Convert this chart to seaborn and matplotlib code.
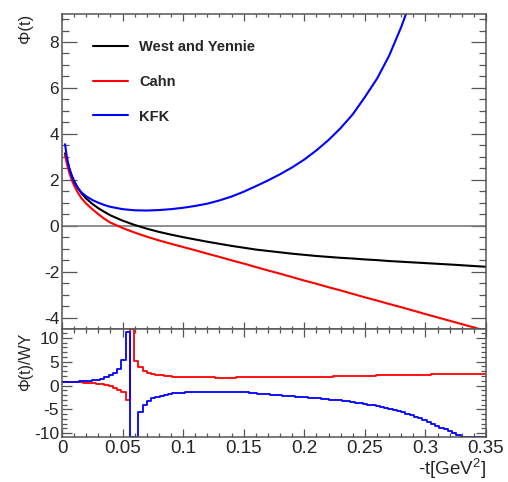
import numpy as np
import pandas as pd
import matplotlib
matplotlib.use("Agg")
import matplotlib.pyplot as plt
from matplotlib.ticker import MultipleLocator, FuncFormatter
import seaborn as sns

# ---------------- data ----------------
t_curve = [0.0025, 0.004, 0.006, 0.008, 0.01, 0.013, 0.016, 0.02, 0.025, 0.03,
           0.035, 0.04, 0.05, 0.06, 0.07, 0.08, 0.09, 0.10, 0.11, 0.12,
           0.13, 0.14, 0.15, 0.16, 0.17, 0.18, 0.19, 0.20, 0.21, 0.22,
           0.23, 0.24, 0.25, 0.26, 0.27, 0.28, 0.29, 0.30, 0.32, 0.35]
phi_wy = [3.15, 2.85, 2.5, 2.2, 1.95, 1.65, 1.42, 1.18, 0.95, 0.76,
          0.6, 0.45, 0.22, 0.03, -0.13, -0.27, -0.39, -0.50, -0.60, -0.70,
          -0.79, -0.88, -0.96, -1.04, -1.10, -1.16, -1.22, -1.27, -1.32, -1.36,
          -1.40, -1.43, -1.47, -1.50, -1.54, -1.57, -1.60, -1.63, -1.69, -1.79]
phi_cahn = [3.08, 2.7, 2.3, 2.0, 1.75, 1.45, 1.2, 0.96, 0.72, 0.5,
            0.3, 0.13, -0.1, -0.3, -0.48, -0.64, -0.79, -0.93, -1.07, -1.22,
            -1.36, -1.51, -1.65, -1.80, -1.95, -2.09, -2.24, -2.39, -2.53, -2.68,
            -2.82, -2.97, -3.12, -3.26, -3.41, -3.55, -3.70, -3.85, -4.14, -4.58]
phi_kfk = [3.55, 3.0, 2.5, 2.15, 1.9, 1.65, 1.45, 1.28, 1.12, 1.0,
           0.9, 0.82, 0.72, 0.67, 0.66, 0.68, 0.72, 0.78, 0.86, 0.96,
           1.1, 1.27, 1.48, 1.72, 1.97, 2.24, 2.54, 2.88, 3.28, 3.73,
           4.25, 4.85, 5.6, 6.4, 7.4, 8.65, 10.1, 11.8, 16.0, 24.0]
model_names = ["West and Yennie", "Cahn", "KFK"]

# ratio histograms: 100 bins of width 0.0035 on [0, 0.35]
n_bins = 100
t_max = 0.35
ratio_kfk = [0.75, 0.78, 0.80, 0.83, 0.87, 0.92, 1.0, 1.1, 1.25, 1.45,
             1.75, 2.1, 2.6, 3.5, 5.4, 11.2, -40.0, -40.0, -5.6, -4.0,
             -3.2, -2.7, -2.35, -2.1, -1.9, -1.75, -1.62, -1.53, -1.47, -1.43,
             -1.41, -1.40, -1.39, -1.38, -1.38, -1.38, -1.38, -1.39, -1.40, -1.41,
             -1.43, -1.44, -1.45, -1.45, -1.52, -1.60, -1.68, -1.76, -1.84, -1.92,
             -2.00, -2.06, -2.12, -2.19, -2.26, -2.33, -2.40, -2.48, -2.56, -2.63,
             -2.70, -2.78, -2.86, -2.94, -3.03, -3.13, -3.24, -3.35, -3.46, -3.58,
             -3.72, -3.86, -4.02, -4.18, -4.36, -4.55, -4.75, -4.95, -5.16, -5.38,
             -5.62, -5.88, -6.2, -6.55, -6.9, -7.3, -7.7, -8.1, -8.5, -8.85,
             -9.2, -9.6, -10.0, -10.4, -10.9, -11.4, -12.0, -12.6, -13.3, -14.0]
ratio_cahn = [0.78, 0.75, 0.72, 0.68, 0.64, 0.58, 0.52, 0.45, 0.35, 0.22,
              0.05, -0.2, -0.5, -0.9, -1.4, -3.1, 40.0, 5.1, 3.9, 3.0,
              2.6, 2.35, 2.2, 2.1, 2.0, 1.93, 1.87, 1.82, 1.78, 1.75,
              1.73, 1.71, 1.70, 1.69, 1.68, 1.68, 1.67, 1.67, 1.67, 1.67,
              1.67, 1.68, 1.68, 1.69, 1.69, 1.70, 1.70, 1.71, 1.72, 1.72,
              1.73, 1.74, 1.75, 1.76, 1.77, 1.78, 1.79, 1.80, 1.81, 1.82,
              1.83, 1.84, 1.86, 1.88, 1.90, 1.92, 1.94, 1.96, 1.98, 2.00,
              2.02, 2.04, 2.06, 2.08, 2.10, 2.12, 2.14, 2.16, 2.18, 2.19,
              2.21, 2.22, 2.24, 2.25, 2.27, 2.28, 2.30, 2.31, 2.33, 2.34,
              2.35, 2.37, 2.38, 2.39, 2.40, 2.41, 2.42, 2.43, 2.44, 2.45]

x_ticks = [0, 0.05, 0.1, 0.15, 0.2, 0.25, 0.3, 0.35]

# ---------------- style ----------------
sns.set_style("ticks")
plt.rcParams["font.family"] = ["Liberation Sans", "DejaVu Sans"]
plt.rcParams["mathtext.fontset"] = "custom"
plt.rcParams["mathtext.rm"] = "Liberation Sans"
plt.rcParams["mathtext.it"] = "Liberation Sans:italic"
plt.rcParams["mathtext.bf"] = "Liberation Sans:bold"
plt.rcParams["mathtext.default"] = "regular"
plt.rcParams["axes.unicode_minus"] = False

colors = {"West and Yennie": "#000000", "Cahn": "#ff0000", "KFK": "#0000ff"}
frame_col = "#555555"

fig = plt.figure(figsize=(5.08, 4.82), dpi=100)
W, H = 508, 482
left, right = 62, 486
top1, mid, bot2 = 14, 329, 437
ax1 = fig.add_axes([left / W, 1 - mid / H, (right - left) / W, (mid - top1) / H])
ax2 = fig.add_axes([left / W, 1 - bot2 / H, (right - left) / W, (bot2 - mid) / H])

# ---------------- top panel ----------------
df = pd.DataFrame({
    "t": t_curve * 3,
    "phi": phi_wy + phi_cahn + phi_kfk,
    "model": [model_names[0]] * len(t_curve) + [model_names[1]] * len(t_curve)
             + [model_names[2]] * len(t_curve),
})
ax1.axhline(0, color="#7a7a7a", lw=1.2, zorder=1)
sns.lineplot(data=df, x="t", y="phi", hue="model", hue_order=model_names,
             palette=colors, linewidth=1.5, ax=ax1, legend=True, sort=True,
             estimator=None)
ax1.set_xlim(0, t_max)
ax1.set_ylim(-4.5, 9.22)
sns.move_legend(ax1, "upper left", bbox_to_anchor=(0.073, 0.918), frameon=False,
                title=None, prop=dict(family="Liberation Sans", weight="bold", size=10.5),
                handlelength=2.4, handletextpad=0.75, labelspacing=1.43,
                borderpad=0, borderaxespad=0)
for ln in ax1.get_legend().get_lines():
    ln.set_linewidth(1.5)

ax1.set_xlabel("")
ax1.set_ylabel("Φ(t)", fontsize=12, loc="top", labelpad=0)
ax1.yaxis.set_label_coords(-0.068, 1.0)
ax1.xaxis.set_major_locator(MultipleLocator(0.05))
ax1.xaxis.set_minor_locator(MultipleLocator(0.01))
ax1.yaxis.set_major_locator(MultipleLocator(2))
ax1.yaxis.set_minor_locator(MultipleLocator(0.5))
ax1.tick_params(axis="x", which="major", direction="in", top=True, bottom=True,
                length=5, width=0.9, color=frame_col, labelbottom=False)
ax1.tick_params(axis="x", which="minor", direction="in", top=True, bottom=True,
                length=2.5, width=0.9, color=frame_col)
ax1.tick_params(axis="y", which="major", direction="in", left=True, right=True,
                length=10.5, width=0.9, color=frame_col, labelsize=12.5, pad=2)
ax1.tick_params(axis="y", which="minor", direction="in", left=True, right=True,
                length=5, width=0.9, color=frame_col)

# ---------------- bottom panel ----------------
edges = np.linspace(0, t_max, n_bins + 1)
centers = 0.5 * (edges[:-1] + edges[1:])
ylo, yhi = -10.8, 11.85
for vals, col in [(ratio_cahn, colors["Cahn"]), (ratio_kfk, colors["KFK"])]:
    hdf = pd.DataFrame({"t": centers, "w": np.clip(np.asarray(vals), ylo, yhi)})
    sns.histplot(data=hdf, x="t", weights="w", bins=list(edges),
                 element="step", fill=False, color=col, linewidth=1.3, ax=ax2)
ax2.set_xlim(0, t_max)
ax2.set_ylim(ylo, yhi)
ax2.set_ylabel("Φ(t)/WY", fontsize=11.5, loc="top", labelpad=0)
ax2.yaxis.set_label_coords(-0.068, 0.963)
ax2.set_xlabel("-t[GeV$^{2}$]", fontsize=13.5, loc="right", labelpad=0)
ax2.set_xticks(x_ticks)
ax2.xaxis.set_major_formatter(FuncFormatter(lambda v, p: f"{v:g}"))
ax2.xaxis.set_minor_locator(MultipleLocator(0.01))
ax2.yaxis.set_major_locator(MultipleLocator(5))
ax2.yaxis.set_minor_locator(MultipleLocator(1))
ax2.tick_params(axis="x", which="major", direction="in", top=True, bottom=True,
                length=6, width=0.9, color=frame_col, labelsize=13.5, pad=2)
ax2.tick_params(axis="x", which="minor", direction="in", top=True, bottom=True,
                length=3, width=0.9, color=frame_col)
ax2.tick_params(axis="y", which="major", direction="in", left=True, right=True,
                length=7, width=0.9, color=frame_col, labelsize=12.5, pad=2)
ax2.tick_params(axis="y", which="minor", direction="in", left=True, right=True,
                length=3.5, width=0.9, color=frame_col)

for ax in (ax1, ax2):
    for sp in ax.spines.values():
        sp.set_visible(True)
        sp.set_color(frame_col)
        sp.set_linewidth(1.1)

fig.savefig("out.png", dpi=100)
